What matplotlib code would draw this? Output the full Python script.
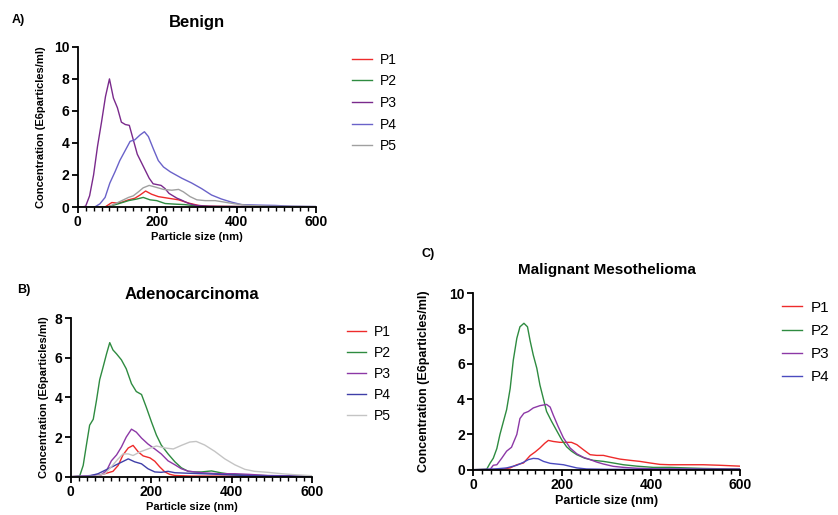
import matplotlib.pyplot as plt
from matplotlib.ticker import MultipleLocator

plt.rcParams['font.family'] = ['Liberation Sans', 'DejaVu Sans']

# ---- Benign (A) ----
a_p1_x = [0, 60, 70, 86, 98, 111, 128, 144, 157, 171, 186, 203, 228, 254, 279, 304, 330, 400, 600]
a_p1_y = [0, 0, 0.02, 0.28, 0.25, 0.3, 0.45, 0.55, 0.75, 1.0, 0.8, 0.65, 0.55, 0.45, 0.25, 0.1, 0.05, 0.03, 0.02]
a_p2_x = [0, 77, 102, 128, 149, 165, 182, 199, 220, 245, 270, 295, 330, 600]
a_p2_y = [0, 0.02, 0.2, 0.4, 0.5, 0.6, 0.45, 0.4, 0.22, 0.18, 0.15, 0.08, 0.03, 0.02]
a_p3_x = [0, 10, 20, 30, 40, 50, 60, 70, 80, 90, 100, 110, 120, 130, 140, 150, 160, 170, 180,
          190, 200, 210, 220, 230, 240, 250, 260, 270, 280, 290, 300, 320, 350, 400, 600]
a_p3_y = [0, 0, 0.05, 0.7, 2.0, 3.8, 5.3, 6.9, 8.0, 6.8, 6.2, 5.3, 5.15, 5.1, 4.2, 3.3, 2.8, 2.3, 1.8,
          1.45, 1.4, 1.35, 1.15, 0.85, 0.7, 0.55, 0.45, 0.33, 0.22, 0.15, 0.1, 0.06, 0.04, 0.03, 0.02]
a_p4_x = [0, 44, 56, 69, 81, 94, 106, 119, 132, 144, 157, 168, 178, 191, 203, 216, 233, 262, 287,
          312, 337, 362, 388, 413, 455, 497, 539, 600]
a_p4_y = [0, 0.02, 0.2, 0.6, 1.5, 2.2, 2.9, 3.5, 4.1, 4.2, 4.5, 4.7, 4.4, 3.6, 2.9, 2.5, 2.2, 1.8, 1.5,
          1.15, 0.75, 0.5, 0.3, 0.15, 0.12, 0.1, 0.05, 0.03]
a_p5_x = [0, 77, 94, 111, 128, 140, 153, 165, 180, 195, 216, 237, 254, 266, 283, 300, 321, 346, 371,
          396, 430, 480, 600]
a_p5_y = [0, 0.02, 0.2, 0.4, 0.6, 0.7, 0.95, 1.2, 1.35, 1.25, 1.1, 1.05, 1.1, 0.95, 0.65, 0.45, 0.4, 0.4, 0.3,
          0.2, 0.1, 0.05, 0.03]

# ---- Adenocarcinoma (B) ----
b_p1_x = [0, 60, 76, 93, 105, 118, 130, 143, 155, 168, 180, 197, 209, 221, 234, 246, 259, 300, 600]
b_p1_y = [0, 0.02, 0.1, 0.2, 0.27, 0.57, 1.1, 1.45, 1.58, 1.25, 1.05, 0.95, 0.78, 0.5, 0.24, 0.12, 0.06, 0.03, 0.02]
b_p2_x = [0, 22, 31, 39, 47, 56, 64, 72, 80, 89, 97, 105, 114, 126, 138, 151, 163, 176, 188, 201,
          213, 225, 242, 259, 275, 292, 308, 325, 350, 375, 400, 433, 490, 600]
b_p2_y = [0, 0.02, 0.57, 1.6, 2.6, 2.9, 3.85, 4.9, 5.5, 6.2, 6.77, 6.4, 6.2, 5.9, 5.45, 4.7, 4.3, 4.15, 3.5, 2.75,
          2.1, 1.6, 1.15, 0.75, 0.45, 0.27, 0.24, 0.24, 0.29, 0.19, 0.12, 0.08, 0.05, 0.02]
b_p3_x = [0, 43, 76, 89, 101, 114, 126, 138, 151, 163, 176, 192, 209, 225, 242, 259, 275, 292, 325,
          366, 408, 441, 490, 600]
b_p3_y = [0, 0.05, 0.1, 0.3, 0.8, 1.1, 1.5, 2.0, 2.4, 2.25, 1.95, 1.65, 1.4, 1.15, 0.8, 0.6, 0.4, 0.28, 0.2,
          0.15, 0.15, 0.12, 0.06, 0.03]
b_p4_x = [0, 43, 68, 93, 118, 143, 159, 176, 192, 209, 225, 242, 259, 284, 325, 366, 408, 460, 600]
b_p4_y = [0, 0.02, 0.15, 0.4, 0.65, 0.9, 0.75, 0.65, 0.4, 0.24, 0.22, 0.27, 0.2, 0.18, 0.15, 0.12, 0.08, 0.04, 0.02]
b_p5_x = [0, 60, 85, 101, 118, 130, 143, 155, 172, 192, 213, 234, 255, 275, 296, 312, 333, 358, 383,
          408, 433, 457, 490, 524, 557, 600]
b_p5_y = [0, 0.02, 0.15, 0.5, 0.9, 1.15, 1.15, 1.07, 1.25, 1.4, 1.55, 1.45, 1.4, 1.58, 1.75, 1.78, 1.6, 1.28, 0.9,
          0.6, 0.37, 0.27, 0.22, 0.15, 0.1, 0.05]

# ---- Malignant Mesothelioma (C) ----
c_p1_x = [0, 50, 68, 83, 98, 113, 128, 139, 150, 161, 169, 180, 195, 210, 221, 233, 248, 263, 278,
          293, 308, 330, 353, 375, 398, 420, 443, 480, 518, 555, 600]
c_p1_y = [0, 0.01, 0.04, 0.1, 0.28, 0.38, 0.8, 1.0, 1.23, 1.5, 1.66, 1.6, 1.55, 1.55, 1.55, 1.42, 1.13, 0.85, 0.81,
          0.81, 0.72, 0.6, 0.53, 0.47, 0.38, 0.3, 0.28, 0.28, 0.28, 0.25, 0.2]
c_p2_x = [0, 30, 38, 45, 53, 60, 68, 75, 83, 90, 98, 105, 114, 122, 128, 135, 143, 150, 158, 165,
          176, 188, 199, 210, 221, 233, 251, 270, 293, 315, 338, 368, 405, 443, 480, 518, 600]
c_p2_y = [0, 0.02, 0.38, 0.65, 1.2, 2.0, 2.75, 3.4, 4.6, 6.2, 7.45, 8.1, 8.3, 8.1, 7.3, 6.5, 5.75, 4.8, 4.0, 3.3,
          2.75, 2.2, 1.7, 1.3, 1.05, 0.85, 0.65, 0.53, 0.47, 0.38, 0.28, 0.2, 0.13, 0.13, 0.1, 0.07, 0.03]
c_p3_x = [0, 38, 45, 53, 64, 75, 86, 98, 105, 114, 124, 135, 150, 165, 173, 180, 191, 203, 218, 233,
          248, 263, 278, 293, 315, 338, 368, 405, 600]
c_p3_y = [0, 0.02, 0.25, 0.28, 0.65, 1.05, 1.27, 2.0, 2.9, 3.2, 3.3, 3.5, 3.63, 3.7, 3.55, 3.1, 2.45, 1.8, 1.23, 0.9,
          0.7, 0.57, 0.43, 0.32, 0.19, 0.13, 0.08, 0.05, 0.03]
c_p4_x = [0, 23, 53, 75, 98, 113, 124, 135, 146, 158, 173, 188, 203, 218, 233, 255, 300, 600]
c_p4_y = [0, 0.01, 0.05, 0.1, 0.25, 0.42, 0.57, 0.64, 0.62, 0.47, 0.36, 0.32, 0.28, 0.19, 0.1, 0.04, 0.02, 0.02]

fig = plt.figure(figsize=(8.38, 5.15), dpi=100)


def style_axes(ax, ymax, ystep, labsize, ypad):
    ax.set_xlim(0, 600)
    ax.set_ylim(0, ymax)
    ax.xaxis.set_major_locator(MultipleLocator(200))
    ax.xaxis.set_minor_locator(MultipleLocator(20))
    ax.yaxis.set_major_locator(MultipleLocator(ystep))
    ax.spines['top'].set_visible(False)
    ax.spines['right'].set_visible(False)
    for s in ['left', 'bottom']:
        ax.spines[s].set_linewidth(1.3)
    ax.tick_params(which='major', length=4, width=1.3, labelsize=10, pad=2)
    ax.tick_params(which='minor', length=3, width=1.0)
    for lab in ax.get_xticklabels() + ax.get_yticklabels():
        lab.set_fontweight('bold')
    ax.set_xlabel('Particle size (nm)', fontsize=labsize, fontweight='bold', labelpad=2)
    ax.set_ylabel('Concentration (E6particles/ml)', fontsize=labsize, fontweight='bold', labelpad=ypad)


# A) Benign
ax1 = fig.add_axes([0.0927, 0.598, 0.2844, 0.311])
ax1.plot(a_p1_x, a_p1_y, color='#ee2b2b', lw=1, label='P1')
ax1.plot(a_p2_x, a_p2_y, color='#2e8b40', lw=1, label='P2')
ax1.plot(a_p3_x, a_p3_y, color='#7a2a8c', lw=1, label='P3')
ax1.plot(a_p4_x, a_p4_y, color='#6a62c9', lw=1, label='P4')
ax1.plot(a_p5_x, a_p5_y, color='#a0a0a0', lw=1, label='P5')
style_axes(ax1, 10, 2, 8, 5.5)
ax1.set_title('Benign', fontsize=12, fontweight='bold', pad=14)
ax1.legend(loc='upper left', bbox_to_anchor=(1.1, 1.042), frameon=False, fontsize=10,
           handlelength=1.4, handletextpad=0.6, labelspacing=0.55)

# B) Adenocarcinoma
ax2 = fig.add_axes([0.0844, 0.0744, 0.288, 0.3076])
ax2.plot(b_p1_x, b_p1_y, color='#ee2b2b', lw=1, label='P1')
ax2.plot(b_p2_x, b_p2_y, color='#2e8b40', lw=1, label='P2')
ax2.plot(b_p3_x, b_p3_y, color='#8c38a6', lw=1, label='P3')
ax2.plot(b_p4_x, b_p4_y, color='#3f3fa8', lw=1, label='P4')
ax2.plot(b_p5_x, b_p5_y, color='#c4c4c4', lw=1, label='P5')
style_axes(ax2, 8, 2, 8, 4)
ax2.set_title('Adenocarcinoma', fontsize=12, fontweight='bold', pad=14)
ax2.legend(loc='upper left', bbox_to_anchor=(1.091, 1.038), frameon=False, fontsize=10,
           handlelength=1.4, handletextpad=0.6, labelspacing=0.5)

# C) Malignant Mesothelioma
ax3 = fig.add_axes([0.5648, 0.088, 0.318, 0.3425])
ax3.plot(c_p1_x, c_p1_y, color='#ee2b2b', lw=1, label='P1')
ax3.plot(c_p2_x, c_p2_y, color='#2e8b40', lw=1, label='P2')
ax3.plot(c_p3_x, c_p3_y, color='#8c38a6', lw=1, label='P3')
ax3.plot(c_p4_x, c_p4_y, color='#4b4bbf', lw=1, label='P4')
style_axes(ax3, 10, 2, 9, 14)
ax3.set_title('Malignant Mesothelioma', fontsize=11, fontweight='bold', pad=14)
ax3.legend(loc='upper left', bbox_to_anchor=(1.107, 1.036), frameon=False, fontsize=11,
           handlelength=1.3, handletextpad=0.55, labelspacing=0.6)

fig.text(0.014, 0.962, 'A)', fontsize=9, fontweight='bold', va='center')
fig.text(0.020, 0.437, 'B)', fontsize=9, fontweight='bold', va='center')
fig.text(0.503, 0.507, 'C)', fontsize=9, fontweight='bold', va='center')

fig.savefig('out.png', dpi=100)
